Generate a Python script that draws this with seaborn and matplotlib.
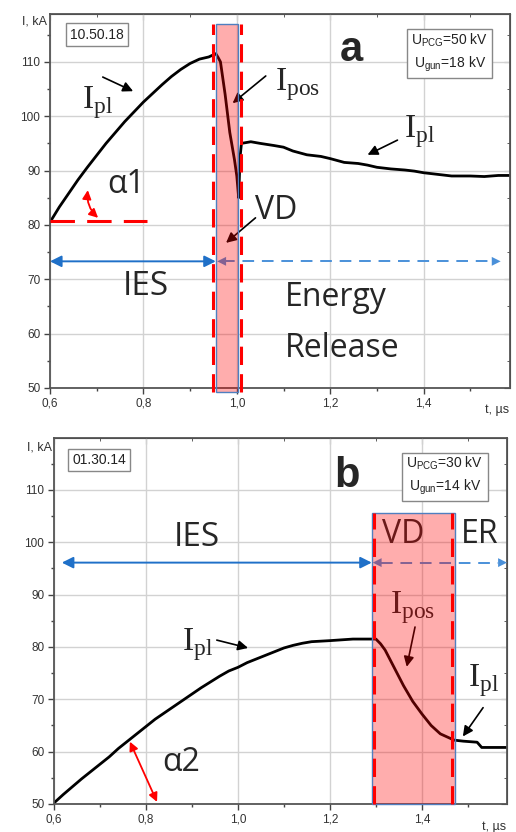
import matplotlib
matplotlib.use("Agg")
import matplotlib.pyplot as plt
from matplotlib.patches import Rectangle
from matplotlib.ticker import MultipleLocator
import pandas as pd
import seaborn as sns

# shot 10.50.18 (panel a)
t_a = [0.600, 0.620, 0.640, 0.660, 0.680, 0.700, 0.720, 0.740, 0.760, 0.780,
       0.800, 0.820, 0.840, 0.860, 0.880, 0.900, 0.920, 0.940, 0.955, 0.960,
       0.965, 0.970, 0.975, 0.980, 0.985, 0.990, 0.995, 1.000, 1.004, 1.007,
       1.010, 1.030, 1.050, 1.080, 1.100, 1.120, 1.150, 1.180, 1.200, 1.230,
       1.260, 1.280, 1.300, 1.330, 1.360, 1.380, 1.400, 1.430, 1.460, 1.500,
       1.530, 1.560, 1.585]
i_a = [80.5, 83.3, 85.8, 88.3, 90.6, 92.8, 95.0, 97.0, 99.0, 100.8,
       102.6, 104.2, 105.8, 107.3, 108.6, 109.7, 110.5, 110.9, 111.5, 110.8,
       110.0, 107.0, 104.0, 100.5, 97.0, 94.5, 92.0, 89.0, 85.0, 92.5,
       95.0, 95.3, 95.0, 94.6, 94.3, 93.6, 92.9, 92.6, 92.2, 91.5,
       91.3, 91.0, 90.6, 90.3, 90.1, 89.9, 89.6, 89.3, 89.0, 89.0,
       88.9, 89.1, 89.1]

# shot 01.30.14 (panel b)
t_b = [0.600, 0.620, 0.640, 0.660, 0.680, 0.700, 0.720, 0.740, 0.760, 0.780,
       0.800, 0.820, 0.840, 0.860, 0.880, 0.900, 0.920, 0.940, 0.960, 0.980,
       1.000, 1.020, 1.040, 1.060, 1.080, 1.100, 1.120, 1.140, 1.160, 1.180,
       1.200, 1.250, 1.300, 1.310, 1.320, 1.340, 1.360, 1.380, 1.400, 1.420,
       1.440, 1.460, 1.470, 1.490, 1.520, 1.530, 1.585]
i_b = [50.2, 51.8, 53.3, 54.8, 56.2, 57.6, 59.0, 60.6, 62.0, 63.4,
       64.8, 66.2, 67.4, 68.6, 69.8, 71.0, 72.2, 73.3, 74.4, 75.4,
       76.1, 77.0, 77.7, 78.4, 79.1, 79.8, 80.3, 80.7, 81.0, 81.1,
       81.2, 81.5, 81.5, 80.6, 79.4, 76.0, 72.6, 69.6, 67.2, 65.0,
       63.4, 62.6, 62.2, 62.0, 61.8, 60.8, 60.8]

x_ticks = [0.6, 0.8, 1.0, 1.2, 1.4]
x_tick_labels = ["0,6", "0,8", "1,0", "1,2", "1,4"]
y_ticks = [50, 60, 70, 80, 90, 100, 110]

sns.set_style("ticks")
plt.rcParams['font.family'] = ['Liberation Sans', 'DejaVu Sans']
plt.rcParams['mathtext.fontset'] = 'custom'
plt.rcParams['mathtext.rm'] = 'Liberation Serif'
plt.rcParams['mathtext.sf'] = 'Liberation Sans'

CAL = ['Open Sans', 'DejaVu Sans']
BLUE = '#1f70c8'
BLUE_L = '#4a90d9'
PINK = (1.0, 0.0, 0.0, 0.32)

fig = plt.figure(figsize=(5.16, 8.32), dpi=100)
ax_a = fig.add_axes([50 / 516, 1 - 388 / 832, 460 / 516, 374 / 832])
ax_b = fig.add_axes([54 / 516, 1 - 804 / 832, 453 / 516, 366 / 832])


def style_axes(ax, ymax):
    ax.set_xlim(0.6, 1.585)
    ax.set_ylim(50, ymax)
    ax.set_xticks(x_ticks)
    ax.set_xticklabels(x_tick_labels)
    ax.xaxis.set_minor_locator(MultipleLocator(0.1))
    ax.set_yticks(y_ticks)
    ax.yaxis.set_minor_locator(MultipleLocator(5))
    ax.grid(True, which='major', color='#d2d2d2', lw=1.0)
    ax.set_axisbelow(True)
    ax.tick_params(which='major', direction='out', length=4, width=1, color='#444444',
                   labelsize=8.5, labelcolor='#333333', pad=3)
    ax.tick_params(which='minor', direction='out', length=2.5, width=1, color='#444444')
    for s in ax.spines.values():
        s.set_color('#555555')
        s.set_linewidth(1.3)
    ax.set_xlabel('')
    ax.set_ylabel('')
    top = ax.secondary_xaxis('top')
    top.set_xticks(x_ticks)
    top.xaxis.set_minor_locator(MultipleLocator(0.1))
    top.tick_params(which='both', direction='in', labeltop=False, color='#444444')
    top.tick_params(which='major', length=4)
    top.tick_params(which='minor', length=2.5)
    right = ax.secondary_yaxis('right')
    right.set_yticks(y_ticks)
    right.yaxis.set_minor_locator(MultipleLocator(5))
    right.tick_params(which='both', direction='in', labelright=False, color='#444444')
    right.tick_params(which='major', length=4)
    right.tick_params(which='minor', length=2.5)


def head(ax, tip, tail, color, ms=16):
    ax.annotate('', xy=tip, xytext=tail,
                arrowprops=dict(arrowstyle='-|>', color=color, lw=0, mutation_scale=ms,
                                shrinkA=0, shrinkB=0), zorder=3)


def pointer(ax, tail, tip):
    ax.annotate('', xy=tip, xytext=tail,
                arrowprops=dict(arrowstyle='-|>', color='black', lw=1.2, mutation_scale=15,
                                shrinkA=0, shrinkB=0), zorder=3)


def vd_box(ax, x0, x1, y0, y1, d0, d1):
    ax.add_patch(Rectangle((x0, y0), x1 - x0, y1 - y0, facecolor=PINK, edgecolor='none',
                           zorder=5, clip_on=False))
    ax.add_patch(Rectangle((x0, y0), x1 - x0, y1 - y0, fill=False, edgecolor='#4f7fc0',
                           lw=1.0, zorder=6, clip_on=False))
    for d in (d0, d1):
        ax.plot([d, d], [y0, y1], color='red', lw=2.2, dashes=(6, 3), zorder=7, clip_on=False)


df_a = pd.DataFrame({'t': t_a, 'I': i_a})
df_b = pd.DataFrame({'t': t_b, 'I': i_b})

# ---------------- panel a ----------------
sns.lineplot(data=df_a, x='t', y='I', ax=ax_a, color='black', lw=2.0,
             estimator=None, sort=False, zorder=2)
style_axes(ax_a, 118.8)

ax_a.text(0.70, 115, '10.50.18', fontsize=10, ha='center', va='center', color='#222222',
          bbox=dict(boxstyle='square,pad=0.3', fc='white', ec='#888888', lw=1))
ax_a.text(1.456, 111.7, 'U$_{\\mathsf{PCG}}$=50 kV\nU$_{\\mathsf{gun}}$=18 kV', fontsize=10,
          ha='center', va='center', color='#222222', linespacing=1.4,
          bbox=dict(boxstyle='square,pad=0.3', fc='white', ec='#888888', lw=1))
ax_a.text(1.246, 112.2, 'a', fontsize=30, fontweight='bold', ha='center', va='center')

ax_a.text(-0.006, 0.981, 'I, kA', transform=ax_a.transAxes, ha='right', va='center',
          fontsize=9, color='#333333')
ax_a.text(1.557, -0.058, 't, \u00b5s', transform=ax_a.get_xaxis_transform(), ha='center',
          va='center', fontsize=9, color='#333333')

# alpha1
ax_a.plot([0.6, 0.807], [80.7, 80.7], color='red', lw=2.2, dashes=(8, 4), zorder=3, clip_on=False)
ax_a.annotate('', xy=(0.703, 81.3), xytext=(0.681, 86.4),
              arrowprops=dict(arrowstyle='<|-|>', color='red', lw=1.3, mutation_scale=13,
                              shrinkA=0, shrinkB=0, connectionstyle='arc3,rad=0.25'), zorder=3)
ax_a.text(0.764, 87.5, '\u03b11', fontsize=23, family=CAL, ha='center', va='center')

# IES / energy release arrows
ax_a.annotate('', xy=(0.955, 73.3), xytext=(0.6, 73.3),
              arrowprops=dict(arrowstyle='<|-|>', color=BLUE, lw=1.4, mutation_scale=17,
                              shrinkA=0, shrinkB=0), zorder=3)
ax_a.plot([0.97, 1.545], [73.3, 73.3], color=BLUE_L, lw=1.4, dashes=(6, 4), zorder=3)
head(ax_a, (1.565, 73.3), (1.54, 73.3), BLUE_L)
head(ax_a, (0.958, 73.3), (0.985, 73.3), BLUE_L)
ax_a.text(0.805, 68.6, 'IES', fontsize=24, family=CAL, ha='center', va='center')
ax_a.text(1.103, 66.7, 'Energy', fontsize=23, family=CAL, ha='left', va='center')
ax_a.text(1.103, 57.3, 'Release', fontsize=23, family=CAL, ha='left', va='center')

# VD label
ax_a.text(1.085, 82.7, 'VD', fontsize=23, family=CAL, ha='center', va='center')
pointer(ax_a, (1.04, 81.3), (0.977, 76.7))

# current labels
ax_a.text(0.668, 101.5, r'$\mathrm{I}_{\mathrm{pl}}$', fontsize=24, ha='left', va='baseline')
pointer(ax_a, (0.713, 107.2), (0.778, 104.6))
ax_a.text(1.081, 104.8, r'$\mathrm{I}_{\mathrm{pos}}$', fontsize=24, ha='left', va='baseline')
pointer(ax_a, (1.062, 107.4), (0.991, 102.4))
ax_a.text(1.359, 96.2, r'$\mathrm{I}_{\mathrm{pl}}$', fontsize=24, ha='left', va='baseline')
pointer(ax_a, (1.344, 95.6), (1.28, 92.9))

vd_box(ax_a, 0.955, 1.002, 49.3, 117.0, 0.949, 1.009)

# ---------------- panel b ----------------
sns.lineplot(data=df_b, x='t', y='I', ax=ax_b, color='black', lw=2.0,
             estimator=None, sort=False, zorder=2)
style_axes(ax_b, 119.9)

ax_b.text(0.698, 115.7, '01.30.14', fontsize=10, ha='center', va='center', color='#222222',
          bbox=dict(boxstyle='square,pad=0.3', fc='white', ec='#888888', lw=1))
ax_b.text(1.45, 112.7, 'U$_{\\mathsf{PCG}}$=30 kV\nU$_{\\mathsf{gun}}$=14 kV', fontsize=10,
          ha='center', va='center', color='#222222', linespacing=1.4,
          bbox=dict(boxstyle='square,pad=0.3', fc='white', ec='#888888', lw=1))
ax_b.text(1.237, 112.6, 'b', fontsize=30, fontweight='bold', ha='center', va='center')

ax_b.text(-0.004, 0.973, 'I, kA', transform=ax_b.transAxes, ha='right', va='center',
          fontsize=9, color='#333333')
ax_b.text(1.557, -0.062, 't, \u00b5s', transform=ax_b.get_xaxis_transform(), ha='center',
          va='center', fontsize=9, color='#333333')

# alpha2
ax_b.annotate('', xy=(0.824, 50.4), xytext=(0.765, 61.9),
              arrowprops=dict(arrowstyle='<|-|>', color='red', lw=1.3, mutation_scale=13,
                              shrinkA=0, shrinkB=0), zorder=3, annotation_clip=False)
ax_b.text(0.876, 57.9, '\u03b12', fontsize=23, family=CAL, ha='center', va='center')

# IES / VD / ER arrows
ax_b.annotate('', xy=(1.291, 96.1), xytext=(0.617, 96.1),
              arrowprops=dict(arrowstyle='<|-|>', color=BLUE, lw=1.4, mutation_scale=17,
                              shrinkA=0, shrinkB=0), zorder=3)
ax_b.plot([1.31, 1.565], [96.1, 96.1], color=BLUE_L, lw=1.4, dashes=(6, 4), zorder=3)
head(ax_b, (1.585, 96.1), (1.56, 96.1), BLUE_L)
head(ax_b, (1.293, 96.1), (1.32, 96.1), BLUE_L)
ax_b.text(0.911, 100.9, 'IES', fontsize=24, family=CAL, ha='center', va='center')
ax_b.text(1.359, 101.4, 'VD', fontsize=23, family=CAL, ha='center', va='center')
ax_b.text(1.525, 101.4, 'ER', fontsize=23, family=CAL, ha='center', va='center')

# current labels
ax_b.text(0.878, 79.4, r'$\mathrm{I}_{\mathrm{pl}}$', fontsize=24, ha='left', va='baseline')
pointer(ax_b, (0.954, 81.3), (1.022, 79.8))
ax_b.text(1.33, 86.5, r'$\mathrm{I}_{\mathrm{pos}}$', fontsize=24, ha='left', va='baseline')
pointer(ax_b, (1.385, 83.8), (1.367, 76.2))
ax_b.text(1.50, 72.4, r'$\mathrm{I}_{\mathrm{pl}}$', fontsize=24, ha='left', va='baseline')
pointer(ax_b, (1.533, 68.4), (1.489, 62.9))

vd_box(ax_b, 1.291, 1.472, 50.0, 105.6, 1.296, 1.465)

fig.savefig('out.png', dpi=100)
